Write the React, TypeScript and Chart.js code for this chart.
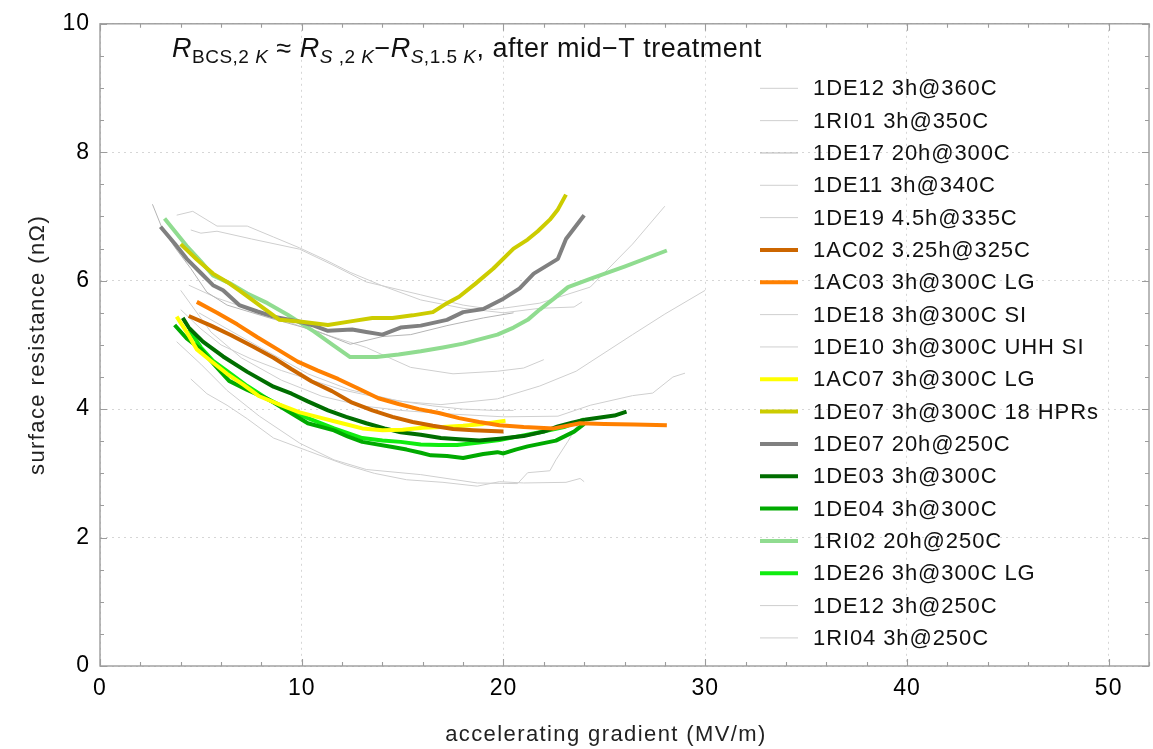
import React, { useEffect, useRef } from 'react';
import { Chart, registerables } from 'chart.js';

Chart.register(...registerables);

const FONT = '"Liberation Sans", Arial, Helvetica, sans-serif';

// accelerating gradient E (MV/m) and BCS surface resistance R (nΩ) per cavity
const de12_360_E = [3.8, 4.6, 5.8, 7.3, 8.6, 9.9, 11.2, 12.4, 14.0, 15.9, 18.0, 20.0, 21.8, 23.5, 23.9];
const de12_360_R = [7.02, 7.08, 6.85, 6.85, 6.68, 6.51, 6.32, 6.13, 5.92, 5.7, 5.57, 5.5, 5.57, 5.59, 5.67];

const ri01_E = [4.5, 5.0, 5.8, 7.5, 9.9, 11.5, 13.2, 15.9, 18.0, 19.5, 21.8, 24.3, 26.4, 28.0];
const ri01_R = [6.79, 6.74, 6.77, 6.65, 6.49, 6.25, 5.98, 5.78, 5.62, 5.55, 5.65, 5.9, 6.57, 7.16];

const de17_E = [2.6, 3.1, 3.8, 4.5, 5.3, 6.3, 8.4, 10.8, 12.4, 14.0, 15.4, 17.2, 19.0, 20.5];
const de17_R = [7.19, 6.8, 6.48, 6.19, 5.82, 5.62, 5.42, 5.21, 5.01, 5.13, 5.16, 5.3, 5.42, 5.5];

const de11_E = [4.4, 5.8, 7.0, 8.4, 10.1, 12.4, 13.2, 15.4, 17.5, 19.7, 21.0, 22.0];
const de11_R = [5.93, 5.73, 5.6, 5.47, 5.27, 5.04, 4.96, 4.65, 4.55, 4.59, 4.64, 4.77];

const de19_E = [4.9, 6.3, 8.0, 10.3, 12.4, 14.9, 16.9, 19.7, 21.8, 23.6, 26.4, 28.0, 30.0];
const de19_R = [5.5, 5.25, 4.95, 4.55, 4.3, 4.12, 4.07, 4.16, 4.36, 4.59, 5.16, 5.48, 5.85];

const ac02_E = [4.4, 5.5, 6.5, 7.6, 8.6, 9.5, 10.5, 11.5, 12.5, 13.5, 14.5, 15.5, 16.5, 17.5, 18.5, 20.0];
const ac02_R = [5.45, 5.3, 5.15, 4.97, 4.8, 4.62, 4.43, 4.28, 4.1, 3.98, 3.88, 3.8, 3.74, 3.69, 3.67, 3.65];

const ac03_E = [4.8, 5.8, 6.8, 7.8, 8.8, 9.8, 10.8, 11.8, 12.8, 13.8, 14.8, 15.8, 16.8, 17.8, 18.8, 19.8, 21.0, 22.5, 23.8, 25.0, 26.5, 28.1];
const ac03_R = [5.67, 5.5, 5.32, 5.12, 4.93, 4.74, 4.6, 4.47, 4.32, 4.17, 4.08, 4.0, 3.94, 3.86, 3.8, 3.75, 3.72, 3.7, 3.78, 3.77, 3.76, 3.75];

const de18_E = [4.0, 5.5, 7.0, 9.0, 11.0, 13.0, 14.9, 17.0, 20.0, 22.7, 24.3, 26.4, 27.4, 28.4, 29.0];
const de18_R = [5.85, 5.2, 4.8, 4.45, 4.2, 4.05, 3.98, 3.93, 3.88, 3.89, 4.06, 4.21, 4.25, 4.5, 4.56];

const de10_E = [3.8, 5.0, 6.3, 7.9, 9.9, 11.6, 13.2, 15.9, 18.7, 20.7, 21.2, 22.3, 22.6, 23.2, 23.8];
const de10_R = [5.05, 4.7, 4.29, 3.89, 3.47, 3.21, 3.06, 2.98, 2.85, 2.84, 3.01, 3.04, 3.21, 3.5, 3.82];

const ac07_E = [3.8, 4.3, 4.8, 5.5, 6.3, 7.1, 7.9, 8.9, 9.9, 11.0, 12.0, 13.0, 14.0, 15.0, 16.0, 17.0, 18.0, 19.0, 20.1];
const ac07_R = [5.44, 5.2, 4.93, 4.75, 4.55, 4.38, 4.2, 4.07, 3.95, 3.86, 3.78, 3.7, 3.67, 3.68, 3.71, 3.72, 3.74, 3.77, 3.82];

const de07hpr_E = [4.0, 4.8, 5.6, 6.3, 6.9, 7.9, 8.9, 10.0, 11.3, 12.5, 13.5, 14.5, 15.5, 16.5, 17.2, 17.8, 18.6, 19.5, 20.5, 21.2, 21.7, 22.3, 22.7, 23.1];
const de07hpr_R = [6.57, 6.33, 6.11, 5.98, 5.85, 5.62, 5.39, 5.36, 5.31, 5.37, 5.42, 5.42, 5.46, 5.51, 5.65, 5.75, 5.95, 6.19, 6.5, 6.64, 6.77, 6.95, 7.11, 7.34];

const de07_E = [3.0, 3.7, 4.3, 5.0, 5.6, 6.1, 6.9, 7.8, 8.6, 9.9, 10.6, 11.3, 12.5, 13.2, 14.0, 14.9, 15.9, 17.2, 18.0, 19.0, 20.0, 20.8, 21.5, 22.7, 23.1, 24.0];
const de07_R = [6.84, 6.58, 6.34, 6.12, 5.93, 5.85, 5.62, 5.52, 5.44, 5.36, 5.3, 5.22, 5.24, 5.2, 5.16, 5.27, 5.3, 5.39, 5.51, 5.56, 5.72, 5.88, 6.11, 6.34, 6.65, 7.02];

const de03_E = [4.1, 4.4, 5.1, 6.1, 7.3, 8.6, 9.5, 10.3, 11.3, 12.2, 13.2, 14.1, 14.9, 15.9, 16.9, 17.8, 18.8, 19.8, 21.0, 22.0, 22.7, 23.4, 24.1, 25.5, 26.1];
const de03_R = [5.42, 5.27, 5.05, 4.82, 4.58, 4.35, 4.24, 4.12, 3.98, 3.88, 3.78, 3.7, 3.64, 3.6, 3.55, 3.53, 3.51, 3.54, 3.58, 3.65, 3.73, 3.79, 3.84, 3.9, 3.96];

const de04_E = [3.7, 4.3, 5.0, 5.7, 6.4, 7.3, 8.3, 9.3, 10.3, 11.6, 12.3, 13.0, 14.5, 15.2, 15.9, 16.4, 17.2, 18.0, 19.0, 19.7, 20.0, 20.6, 21.2, 22.6, 23.5, 24.0];
const de04_R = [5.31, 5.1, 4.93, 4.68, 4.44, 4.3, 4.16, 3.97, 3.78, 3.67, 3.57, 3.49, 3.41, 3.37, 3.32, 3.28, 3.27, 3.24, 3.3, 3.33, 3.31, 3.37, 3.42, 3.51, 3.65, 3.77];

const ri02_E = [3.2, 4.3, 5.0, 5.6, 6.5, 7.3, 8.3, 9.3, 10.6, 11.5, 12.4, 13.7, 14.8, 15.9, 17.0, 18.0, 19.7, 20.5, 21.2, 21.8, 22.5, 23.2, 24.4, 26.0, 28.1];
const ri02_R = [6.97, 6.54, 6.3, 6.08, 5.95, 5.8, 5.65, 5.47, 5.21, 5.01, 4.81, 4.81, 4.85, 4.9, 4.96, 5.02, 5.16, 5.27, 5.39, 5.55, 5.72, 5.9, 6.04, 6.22, 6.47];

const de26_E = [4.4, 5.0, 5.6, 6.3, 7.3, 8.3, 9.3, 10.3, 11.6, 13.0, 14.0, 14.9, 15.9, 16.8, 17.7, 18.8, 19.8, 20.8, 21.8, 23.0, 24.0];
const de26_R = [5.24, 4.96, 4.75, 4.59, 4.36, 4.16, 4.0, 3.86, 3.7, 3.55, 3.51, 3.49, 3.45, 3.44, 3.44, 3.48, 3.52, 3.58, 3.64, 3.72, 3.84];

const de12_250_E = [4.5, 5.3, 6.3, 7.3, 8.6, 10.3, 12.2, 13.6, 15.2, 17.0, 18.7, 19.8, 21.0, 23.1, 23.8, 24.0];
const de12_250_R = [4.47, 4.24, 4.06, 3.85, 3.55, 3.35, 3.13, 3.0, 2.9, 2.86, 2.8, 2.87, 2.85, 2.86, 2.92, 2.87];

const ri04_E = [4.0, 5.0, 6.0, 7.5, 9.0, 10.5, 12.0, 13.5, 15.0, 16.5, 18.0, 19.5, 20.5];
const ri04_R = [5.55, 5.25, 5.0, 4.78, 4.6, 4.45, 4.3, 4.2, 4.12, 4.05, 4.0, 3.98, 3.98];

const xTickValues = [0, 10, 20, 30, 40, 50];
const yTickValues = [0, 2, 4, 6, 8, 10];

type Series = { label: string; E: number[]; R: number[]; color: string; width: number };

const THIN = '#cfcfcf';

const series: Series[] = [
  { label: '1DE12 3h@360C', E: de12_360_E, R: de12_360_R, color: THIN, width: 1 },
  { label: '1RI01 3h@350C', E: ri01_E, R: ri01_R, color: THIN, width: 1 },
  { label: '1DE17 20h@300C', E: de17_E, R: de17_R, color: '#b4b4b4', width: 1 },
  { label: '1DE11 3h@340C', E: de11_E, R: de11_R, color: THIN, width: 1 },
  { label: '1DE19 4.5h@335C', E: de19_E, R: de19_R, color: THIN, width: 1 },
  { label: '1AC02 3.25h@325C', E: ac02_E, R: ac02_R, color: '#cc6600', width: 4 },
  { label: '1AC03 3h@300C LG', E: ac03_E, R: ac03_R, color: '#ff8000', width: 4 },
  { label: '1DE18 3h@300C SI', E: de18_E, R: de18_R, color: THIN, width: 1 },
  { label: '1DE10 3h@300C UHH SI', E: de10_E, R: de10_R, color: THIN, width: 1 },
  { label: '1AC07 3h@300C LG', E: ac07_E, R: ac07_R, color: '#ffff00', width: 4 },
  { label: '1DE07 3h@300C 18 HPRs', E: de07hpr_E, R: de07hpr_R, color: '#cccc00', width: 4 },
  { label: '1DE07 20h@250C', E: de07_E, R: de07_R, color: '#808080', width: 4 },
  { label: '1DE03 3h@300C', E: de03_E, R: de03_R, color: '#006e00', width: 4 },
  { label: '1DE04 3h@300C', E: de04_E, R: de04_R, color: '#00aa00', width: 4 },
  { label: '1RI02 20h@250C', E: ri02_E, R: ri02_R, color: '#90dc90', width: 4 },
  { label: '1DE26 3h@300C LG', E: de26_E, R: de26_R, color: '#10ec10', width: 4 },
  { label: '1DE12 3h@250C', E: de12_250_E, R: de12_250_R, color: THIN, width: 1 },
  { label: '1RI04 3h@250C', E: ri04_E, R: ri04_R, color: THIN, width: 1 },
];

type Run = { t: string; italic?: boolean; sub?: boolean };

const titleRuns: Run[] = [
  { t: 'R', italic: true },
  { t: 'BCS,2 ', sub: true },
  { t: 'K', sub: true, italic: true },
  { t: ' \u2248 ' },
  { t: 'R', italic: true },
  { t: 'S', sub: true, italic: true },
  { t: ' ,2 ', sub: true },
  { t: 'K', sub: true, italic: true },
  { t: '\u2212' },
  { t: 'R', italic: true },
  { t: 'S', sub: true, italic: true },
  { t: ',1.5 ', sub: true },
  { t: 'K', sub: true, italic: true },
  { t: ', after mid\u2212T treatment' },
];

const decorations = {
  id: 'decorations',
  beforeDraw(chart: any) {
    chart.ctx.letterSpacing = '1px';
  },
  afterDatasetsDraw(chart: any) {
    const { ctx, chartArea: a, scales } = chart;
    const xs = scales.x;
    const ys = scales.y;
    ctx.save();

    // frame with inward ticks on all four sides
    ctx.strokeStyle = '#9c9c9c';
    ctx.lineWidth = 1.4;
    ctx.strokeRect(a.left, a.top, a.right - a.left, a.bottom - a.top);
    ctx.lineWidth = 1.1;
    ctx.beginPath();
    for (let v = 0; v <= xs.max + 1e-9; v += 2) {
      const px = Math.round(xs.getPixelForValue(v)) + 0.5;
      const len = v % 10 === 0 ? 7 : 4;
      ctx.moveTo(px, a.bottom);
      ctx.lineTo(px, a.bottom - len);
      ctx.moveTo(px, a.top);
      ctx.lineTo(px, a.top + len);
    }
    for (let v = 0; v <= ys.max + 1e-9; v += 0.5) {
      const py = Math.round(ys.getPixelForValue(v)) + 0.5;
      const len = Math.abs(v % 2) < 1e-9 ? 7 : 4;
      ctx.moveTo(a.left, py);
      ctx.lineTo(a.left + len, py);
      ctx.moveTo(a.right, py);
      ctx.lineTo(a.right - len, py);
    }
    ctx.stroke();

    // legend
    ctx.letterSpacing = '0.9px';
    ctx.font = `22px ${FONT}`;
    ctx.textBaseline = 'middle';
    ctx.textAlign = 'left';
    const lx0 = 760;
    const lx1 = 798;
    const ly0 = 88.3;
    const dy = 32.33;
    chart.data.datasets.forEach((ds: any, i: number) => {
      const yy = ly0 + i * dy;
      ctx.strokeStyle = ds.borderColor;
      ctx.lineWidth = ds.borderWidth;
      ctx.beginPath();
      ctx.moveTo(lx0, yy);
      ctx.lineTo(lx1, yy);
      ctx.stroke();
      ctx.fillStyle = '#111';
      ctx.fillText(ds.label, 813, yy + 1);
    });

    // plot label
    ctx.letterSpacing = '0.5px';
    ctx.textBaseline = 'alphabetic';
    let tx = 172;
    const base = 57;
    for (const r of titleRuns) {
      const size = r.sub ? 19 : 27;
      ctx.font = `${r.italic ? 'italic ' : ''}${size}px ${FONT}`;
      ctx.fillStyle = '#111';
      ctx.fillText(r.t, tx, r.sub ? base + 6 : base);
      tx += ctx.measureText(r.t).width;
    }

    // axis titles
    ctx.font = `22px ${FONT}`;
    ctx.letterSpacing = '1.4px';
    ctx.textAlign = 'center';
    ctx.textBaseline = 'middle';
    ctx.fillStyle = '#222';
    ctx.fillText('accelerating gradient (MV/m)', 606, 735);
    ctx.translate(38, (a.top + a.bottom) / 2);
    ctx.rotate(-Math.PI / 2);
    ctx.fillText('surface resistance (n\u03a9)', 0, 0);
    ctx.restore();
  },
};

export default function App() {
  const ref = useRef<HTMLCanvasElement | null>(null);

  useEffect(() => {
    document.body.style.margin = '0';
    const canvas = ref.current;
    if (!canvas) return;

    const datasets = series.map((s) => ({
      label: s.label,
      data: s.E.map((e, i) => ({ x: e, y: s.R[i] })),
      borderColor: s.color,
      backgroundColor: s.color,
      borderWidth: s.width,
      pointRadius: 0,
      tension: 0,
      fill: false,
      borderJoinStyle: 'round' as const,
      order: s.width > 1 ? 0 : 1,
    }));

    const tickFont = { family: FONT, size: 23 };

    const chart = new Chart(canvas, {
      type: 'line',
      data: { datasets },
      options: {
        animation: false,
        responsive: false,
        devicePixelRatio: 1,
        layout: { padding: { top: 12, right: 4, left: 0, bottom: 0 } },
        plugins: { legend: { display: false }, tooltip: { enabled: false } },
        scales: {
          x: {
            type: 'linear',
            min: 0,
            max: 52,
            afterFit: (s: any) => {
              s.height = 83;
            },
            afterBuildTicks: (s: any) => {
              s.ticks = xTickValues.map((v) => ({ value: v }));
            },
            ticks: { font: tickFont, color: '#000', padding: 9, maxRotation: 0, autoSkip: false },
            grid: { color: '#d6d6d6', lineWidth: 1, drawTicks: false },
            border: { display: false, dash: [2, 4] },
          },
          y: {
            type: 'linear',
            min: 0,
            max: 10,
            afterFit: (s: any) => {
              s.width = 100;
            },
            afterBuildTicks: (s: any) => {
              s.ticks = yTickValues.map((v) => ({ value: v }));
            },
            ticks: { font: tickFont, color: '#000', padding: 10, autoSkip: false },
            grid: { color: '#d6d6d6', lineWidth: 1, drawTicks: false },
            border: { display: false, dash: [2, 4] },
          },
        },
      },
      plugins: [decorations],
    });

    return () => chart.destroy();
  }, []);

  return (
    <div style={{ width: 1153, height: 749, background: '#fff' }}>
      <canvas ref={ref} width={1153} height={749} style={{ display: 'block' }} />
    </div>
  );
}
